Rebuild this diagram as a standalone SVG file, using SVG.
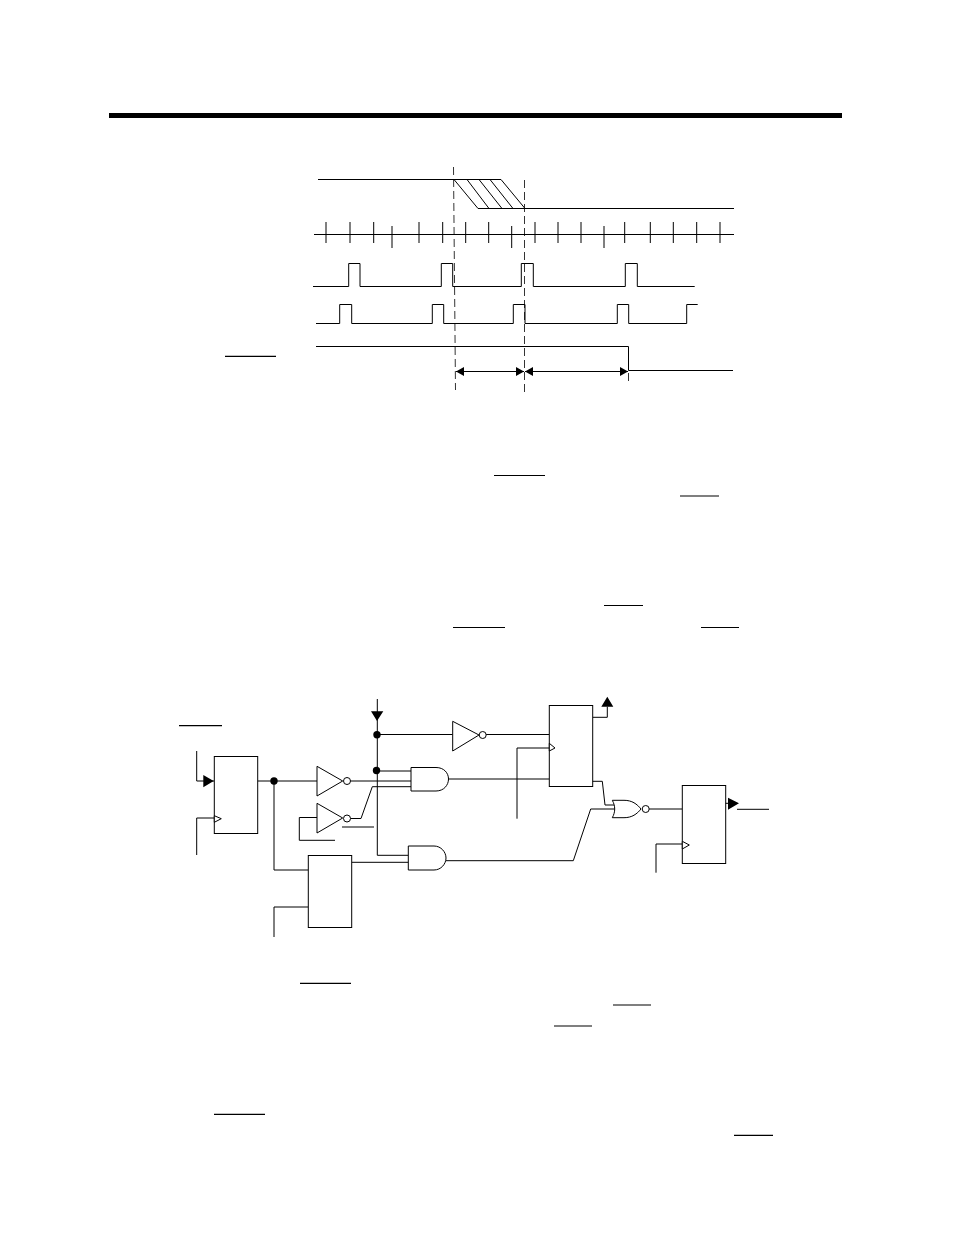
<svg xmlns="http://www.w3.org/2000/svg" width="954" height="1235" viewBox="0 0 954 1235">
<style>
.l{fill:none;stroke:#000;stroke-width:1}
.g{fill:#fff;stroke:#000;stroke-width:1}
.f{fill:#000;stroke:none}
.d{fill:none;stroke:#000;stroke-width:.8;stroke-dasharray:8 4}
.o{fill:none;stroke:#000;stroke-width:1.2}
</style>
<rect width="954" height="1235" fill="#fff"/>
<rect id="header-rule" x="109" y="113" width="733" height="5" fill="#000"/>
<g id="timing">
<path class="l" d="M318 179.5H501M454 179.5L478 208.5H734M467 179.5L489 208.5M479 179.5L502 208.5M490 179.5L513 208.5M501 179.5L525 208.5"/>
<path class="l" d="M314 234.5H734M326 222V243M350 222V243M373.7 222V243M392 226V248M419 222V243M442.7 222V243M465.7 222V243M488.7 222V243M511.7 226V248M535 222V243M558 222V243M581 222V243M604 226V248M624.7 222V243M650.3 222V243M673.3 222V243M696.7 222V243M720 222V243"/>
<path class="l" d="M313 286.5H348.7V263.5H360V286.5H441.3V263.5H452.7V286.5H521.3V263.5H533.3V286.5H625.3V263.5H637.3V286.5H694.7"/>
<path class="l" d="M316 323.5H339.7V304.5H351.7V323.5H432.3V304.5H443.7V323.5H513.3V304.5H525V323.5H617.3V304.5H628.7V323.5H686.7V304.5H697.7"/>
<path class="l" d="M316 346.5H628.5V370.5H733"/>
<path class="d" d="M453.5 167L455.5 390M524.5 180V396M628.5 373V381"/>
<path class="l" d="M456 371.5H524M525 371.5H628"/>
<path class="f" d="M456 371.5L464 367V376ZM524 371.5L516 367V376ZM525 371.5L533 367V376ZM628 371.5L620 367V376Z"/>
</g>
<g id="overbars">
<path class="o" d="M225 356.3H276M494 475.5H545M680 496H719M604 605.5H643M453 627.5H505M701 627.5H739M179 725.7H222M342 827H374M300 983.3H351M613 1005H651M554 1026H592M214 1114.3H265M734 1135.3H773"/>
</g>
<g id="connectors">
<path class="l" d="M196.7 751V781H214M196.7 855V818H214"/>
<path class="l" d="M257.7 781H317M274 781V870H308.3M308.3 907H274V937"/>
<path class="l" d="M317 817.5H299.3V840.3H335"/>
<path class="l" d="M350.3 781H411M350.3 818.5H361L372.3 786.7H411"/>
<path class="l" d="M377.3 699V855.3H408.3M377 734.5H452.7M376.3 771H411"/>
<path class="l" d="M351.7 862.3H408.3M448.3 779H549.3"/>
<path class="l" d="M446 860.7H573.3L590.7 809H615.7"/>
<path class="l" d="M486 734.5H549.3M517 818.7V748H549.3"/>
<path class="l" d="M592.7 717.3H607.3V706.7M590.3 781.3H602.3L605 805H615.7"/>
<path class="l" d="M649 809H682.3M656 872.7V844H682.3"/>
<path class="l" d="M724 803.3H728M737 809.3H769"/>
<path class="f" d="M203.3 775L213.7 781L203.3 787.3ZM371 711.3H383.3L377 721ZM601.3 706.7H613.3L607.3 696.7ZM728 797.7L739 803.3L728 809.7Z"/>
<circle class="f" cx="274" cy="781" r="3.7"/>
<circle class="f" cx="377" cy="734.7" r="3.7"/>
<circle class="f" cx="376.5" cy="770.5" r="3.7"/>
</g>
<g id="ff1"><rect class="g" x="214.3" y="756.5" width="43.4" height="77"/><path class="g" d="M214.3 815.7L221.3 818.7L214.3 822.3Z"/></g>
<g id="ff2"><rect class="g" x="549.3" y="705.5" width="43.4" height="81"/><path class="g" d="M549.3 743.3L555 748L549.3 751Z"/></g>
<g id="ff3"><rect class="g" x="682.3" y="785.5" width="43.4" height="78"/><path class="g" d="M682.3 841.3L689.3 845L682.3 849Z"/></g>
<g id="counter"><rect class="g" x="308.3" y="855.5" width="43.4" height="72"/></g>
<g id="inv1"><path class="g" d="M317 766.3V796L342.7 781Z"/><circle class="g" cx="347" cy="781" r="3.5"/></g>
<g id="inv2"><path class="g" d="M317 803.3V833L342.7 818Z"/><circle class="g" cx="347" cy="818.5" r="3.5"/></g>
<g id="inv3"><path class="g" d="M452.7 721.3V751L479 735Z"/><circle class="g" cx="482.7" cy="735" r="3.5"/></g>
<g id="and1"><path class="g" d="M411 767.5H436C444 767.5 448.5 773 448.5 779C448.5 785 444 791 436 791H411Z"/></g>
<g id="and2"><path class="g" d="M408.3 846H434C441 846 446 852 446 858C446 864 441 870 434 870H408.3Z"/></g>
<g id="nor"><path class="g" d="M612.3 800.3H624C632 800.3 637 804 641 809C637 814 632 817.7 624 817.7H612.3C615.5 812 615.5 806 612.3 800.3Z"/><circle class="g" cx="645.7" cy="809" r="3.5"/></g>
</svg>
